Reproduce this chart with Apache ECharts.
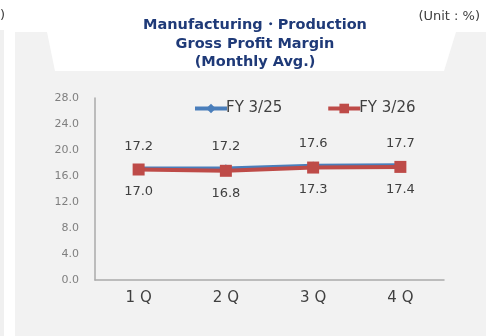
<!DOCTYPE html>
<html>
<head>
<meta charset="utf-8">
<style>
  html, body { margin: 0; padding: 0; background: #ffffff; }
  #chart { width: 493px; height: 336px; }
</style>
<script src="https://cdn.jsdelivr.net/npm/echarts@6/dist/echarts.min.js"></script>
</head>
<body>
<div id="chart"></div>
<script>
// Quarterly gross profit margin, manufacturing & production (monthly average, %)
const quarters = ['1Q', '2Q', '3Q', '4Q'];
const fy325 = [17.2, 17.2, 17.6, 17.7];
const fy326 = [17.0, 16.8, 17.3, 17.4];
const seriesNames = ['FY 3/25', 'FY 3/26'];
const yTicks = { min: 0, max: 28, interval: 4 };

const FONT = '"DejaVu Sans", Verdana, sans-serif';
const BLUE = '#4a7ebb';
const RED = '#be4b48';
const chart = echarts.init(document.getElementById('chart'), null, { renderer: 'canvas' });

chart.setOption({
  backgroundColor: '#ffffff',
  animation: false,
  graphic: [
    // thin panel at the far left edge
    { type: 'rect', z: -10, shape: { x: 0, y: 30, width: 4, height: 306 }, style: { fill: '#f0f0f0' } },
    // main grey panel with a tab-shaped notch for the heading
    {
      type: 'polygon', z: -10,
      shape: { points: [[15, 32], [47, 32], [55, 71], [444, 71], [456, 32], [486, 32], [486, 336], [15, 336]] },
      style: { fill: '#f2f2f2' }
    },
    { type: 'text', x: 0, y: 9, style: { text: ')', font: '13px ' + FONT, fill: '#404040' } },
    { type: 'text', x: 480, y: 10, style: { text: '(Unit : %)', font: '13px ' + FONT, fill: '#404040', align: 'right' } }
  ],
  title: {
    text: 'Manufacturing・Production\nGross Profit Margin\n(Monthly Avg.)',
    left: 255,
    top: 16,
    textAlign: 'center',
    padding: 0,
    textStyle: { fontFamily: FONT, fontSize: 14.5, fontWeight: 'bold', color: '#1f3a78', lineHeight: 18.5 }
  },
  legend: {
    data: [
      { name: seriesNames[0], lineStyle: { width: 4, color: BLUE } },
      { name: seriesNames[1], lineStyle: { width: 4, color: RED } }
    ],
    top: 96,
    left: 188,
    itemWidth: 32,
    itemHeight: 12,
    itemGap: 44,
    textStyle: { fontFamily: FONT, fontSize: 15, color: '#404040', padding: [0, 0, 0, -6] }
  },
  grid: { left: 95, right: 49, top: 98, bottom: 56, containLabel: false },
  xAxis: {
    type: 'category',
    data: quarters,
    boundaryGap: true,
    axisLine: { lineStyle: { color: '#aaaaaa', width: 1.5 } },
    axisTick: { show: false },
    axisLabel: {
      margin: 11,
      fontFamily: FONT, fontSize: 15, color: '#404040',
      formatter: v => v.split('').join(' ')
    }
  },
  yAxis: {
    type: 'value',
    min: yTicks.min, max: yTicks.max, interval: yTicks.interval,
    splitLine: { show: false },
    axisLine: { show: true, lineStyle: { color: '#aaaaaa', width: 1.5 } },
    axisTick: { show: false },
    axisLabel: {
      margin: 16,
      fontFamily: FONT, fontSize: 11, color: '#7f7f7f',
      formatter: v => v.toFixed(1)
    }
  },
  series: [
    {
      name: seriesNames[0],
      type: 'line',
      data: fy325,
      symbol: 'diamond',
      symbolSize: 8,
      itemStyle: { color: BLUE },
      lineStyle: { color: BLUE, width: 3.5 },
      label: {
        show: true, position: 'top', distance: 11,
        fontFamily: FONT, fontSize: 13, color: '#404040',
        formatter: p => p.value.toFixed(1)
      },
      z: 2
    },
    {
      name: seriesNames[1],
      type: 'line',
      data: fy326,
      symbol: 'rect',
      symbolSize: 12,
      itemStyle: { color: RED },
      lineStyle: { color: RED, width: 4 },
      label: {
        show: true, position: 'bottom', distance: 10,
        fontFamily: FONT, fontSize: 13, color: '#404040',
        formatter: p => p.value.toFixed(1)
      },
      z: 3
    }
  ]
});
</script>
</body>
</html>
